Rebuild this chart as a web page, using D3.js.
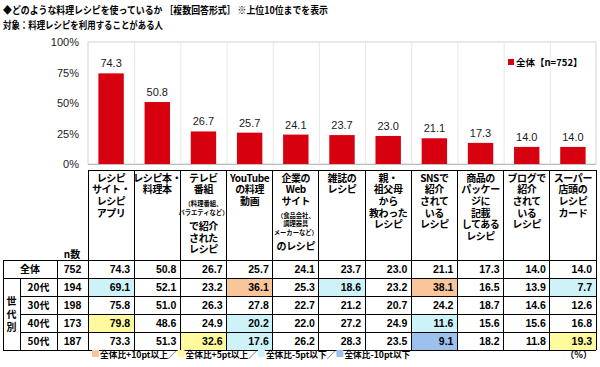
<!DOCTYPE html>
<html>
<head>
<meta charset="utf-8">
<script src="https://cdn.jsdelivr.net/npm/d3@7"></script>
<style>body{margin:0;background:#fff}</style>
</head>
<body>
<script>
// data
const categories = ["レシピサイト・レシピアプリ", "レシピ本・料理本", "テレビ番組で紹介されたレシピ",
  "YouTubeの料理動画", "企業のWebサイトのレシピ", "雑誌のレシピ", "親・祖父母から教わったレシピ",
  "SNSで紹介されているレシピ", "商品のパッケージに記載してあるレシピ", "ブログで紹介されているレシピ",
  "スーパー店頭のレシピカード"];
// header text per column, nested arrays are the small notes
const headerLines = [
  ["レシピ", "サイト・", "レシピ", "アプリ"],
  ["レシピ本・", "料理本"],
  ["テレビ", "番組", ["（料理番組、", "バラエティなど）"], "で紹介", "された", "レシピ"],
  ["YouTube", "の料理", "動画"],
  ["企業の", "Web", "サイト", ["（食品会社、", "調理器具", "メーカーなど）"], "のレシピ"],
  ["雑誌の", "レシピ"],
  ["親・", "祖父母", "から", "教わった", "レシピ"],
  ["SNSで", "紹介", "されて", "いる", "レシピ"],
  ["商品の", "パッケー", "ジに", "記載", "してある", "レシピ"],
  ["ブログで", "紹介", "されて", "いる", "レシピ"],
  ["スーパー", "店頭の", "レシピ", "カード"]
];
const totalValues = [74.3, 50.8, 26.7, 25.7, 24.1, 23.7, 23.0, 21.1, 17.3, 14.0, 14.0];
const totalN = 752;
const ageGroups = ["20代", "30代", "40代", "50代"];
const ageN = [194, 198, 173, 187];
const age20 = [69.1, 52.1, 23.2, 36.1, 25.3, 18.6, 23.2, 38.1, 16.5, 13.9, 7.7];
const age30 = [75.8, 51.0, 26.3, 27.8, 22.7, 21.2, 20.7, 24.2, 18.7, 14.6, 12.6];
const age40 = [79.8, 48.6, 24.9, 20.2, 22.0, 27.2, 24.9, 11.6, 15.6, 15.6, 16.8];
const age50 = [73.3, 51.3, 32.6, 17.6, 26.2, 28.3, 23.5, 9.1, 18.2, 11.8, 19.3];
const yTicks = [0, 25, 50, 75, 100];
const titleText = "◆どのような料理レシピを使っているか ［複数回答形式］ ※上位10位までを表示";
const subTitle = "対象：料理レシピを利用することがある人";
const seriesLabel = "全体【n=752】";
const noteLabels = ["全体比+10pt以上／", "全体比+5pt以上／", "全体比-5pt以下／", "全体比-10pt以下"];

const jp = "'Noto Sans CJK JP', sans-serif",
      num = "'Liberation Sans', Arial, sans-serif",
      red = "#d7000f",
      noteColors = ["#f9c59a", "#fffa9e", "#cdf3f9", "#9dc1ee"];

const W = 600, H = 367,
      plotL = 88, plotR = 596, plotT = 42, plotB = 164;

const svg = d3.select("body").append("svg")
    .attr("width", W).attr("height", H)
    .style("font-family", jp);

// titles
svg.append("text").attr("x", 3).attr("y", 14)
    .attr("font-size", 10).attr("font-weight", "bold")
    .attr("textLength", 325).attr("lengthAdjust", "spacingAndGlyphs")
    .text(titleText);
svg.append("text").attr("x", 3).attr("y", 29)
    .attr("font-size", 10).attr("font-weight", "bold")
    .attr("textLength", 160).attr("lengthAdjust", "spacingAndGlyphs")
    .text(subTitle);

// scales
const x = d3.scaleBand().domain(categories).range([plotL, plotR]);
const xb = d3.scaleBand().domain(categories).range([plotL, plotR])
    .paddingInner(0.45).paddingOuter(0.225);
const y = d3.scaleLinear().domain([0, 100]).range([plotB, plotT]);

// plot frame and grid
svg.append("rect")
    .attr("x", plotL).attr("y", plotT)
    .attr("width", plotR - plotL).attr("height", plotB - plotT)
    .attr("fill", "none").attr("stroke", "#d4d4d4");
svg.append("g").selectAll("line")
    .data(categories.slice(1))
    .join("line")
    .attr("x1", d => x(d) + 0.5).attr("x2", d => x(d) + 0.5)
    .attr("y1", plotT).attr("y2", plotB)
    .attr("stroke", "#e6e6e6");

// y axis
const yAxis = svg.append("g")
    .attr("transform", "translate(" + plotL + ",0)")
    .call(d3.axisLeft(y).tickValues(yTicks).tickFormat(d => d + "%").tickSize(0).tickPadding(9));
yAxis.select(".domain").remove();
yAxis.selectAll("text")
    .attr("font-family", num).attr("font-size", 11).attr("fill", "#222");

svg.append("line")
    .attr("x1", plotL).attr("x2", plotR)
    .attr("y1", plotB + 0.5).attr("y2", plotB + 0.5)
    .attr("stroke", "#bdbdbd");

// bars
svg.append("g").selectAll("rect")
    .data(totalValues)
    .join("rect")
    .attr("x", (d, i) => xb(categories[i]))
    .attr("width", xb.bandwidth())
    .attr("y", d => y(d))
    .attr("height", d => y(0) - y(d))
    .attr("fill", red);

svg.append("g").selectAll("text")
    .data(totalValues)
    .join("text")
    .attr("x", (d, i) => x(categories[i]) + x.bandwidth() / 2)
    .attr("y", d => y(d) - 6)
    .attr("text-anchor", "middle")
    .attr("font-family", num).attr("font-size", 11).attr("fill", "#1a1a1a")
    .text(d => d.toFixed(1));

// legend
svg.append("rect").attr("x", 508).attr("y", 59).attr("width", 6).attr("height", 6).attr("fill", red);
svg.append("text").attr("x", 516).attr("y", 66)
    .attr("font-size", 9.5).attr("font-weight", "bold")
    .text(seriesLabel);

// ---- table ----
const rows = ["全体"].concat(ageGroups),
      rowN = [totalN].concat(ageN),
      rowValues = [totalValues, age20, age30, age40, age50];
const ry = d3.scaleBand().domain(rows).range([260, 350]);
const c0 = 3, c1 = 20, c2 = 57, c3 = plotL, hTop = 170;

// highlight cells
function noteIndex(v, i) {
  const diff = v - totalValues[i];
  if (diff >= 10) return 0;
  if (diff >= 5) return 1;
  if (diff <= -10) return 3;
  if (diff <= -5) return 2;
  return -1;
}
rowValues.slice(1).forEach((vals, r) => {
  svg.append("g").selectAll("rect")
    .data(vals.map((v, i) => ({v, i, k: noteIndex(v, i)})).filter(d => d.k >= 0))
    .join("rect")
    .attr("x", d => x(categories[d.i]))
    .attr("y", ry(ageGroups[r]))
    .attr("width", x.bandwidth())
    .attr("height", ry.bandwidth())
    .attr("fill", d => noteColors[d.k]);
});

const grid = svg.append("g")
    .attr("stroke", "#000").attr("stroke-width", 1)
    .attr("shape-rendering", "crispEdges");
// horizontal
grid.append("line").attr("x1", c3).attr("x2", plotR).attr("y1", hTop).attr("y2", hTop);
grid.append("line").attr("x1", c0).attr("x2", plotR).attr("y1", 260).attr("y2", 260);
ageGroups.forEach(g => {
  const x1 = g === ageGroups[0] ? c0 : c1;
  grid.append("line").attr("x1", x1).attr("x2", plotR).attr("y1", ry(g)).attr("y2", ry(g));
});
grid.append("line").attr("x1", c0).attr("x2", plotR).attr("y1", 350).attr("y2", 350);
// vertical
grid.append("line").attr("x1", c0).attr("x2", c0).attr("y1", 260).attr("y2", 350);
grid.append("line").attr("x1", c1).attr("x2", c1).attr("y1", ry(ageGroups[0])).attr("y2", 350);
grid.append("line").attr("x1", c2).attr("x2", c2).attr("y1", 260).attr("y2", 350);
categories.forEach(c => {
  grid.append("line").attr("x1", x(c)).attr("x2", x(c)).attr("y1", hTop).attr("y2", 350);
});
grid.append("line").attr("x1", plotR).attr("x2", plotR).attr("y1", hTop).attr("y2", 350);

// header text
headerLines.forEach((lines, i) => {
  const cx = x(categories[i]) + x.bandwidth() / 2;
  let yy = 178, prevSmall = false, first = true;
  lines.forEach(item => {
    if (Array.isArray(item)) {
      yy += 14;
      item.forEach((s, k) => {
        if (k > 0) yy += 8.7;
        svg.append("text").attr("x", cx).attr("y", yy + 2.5)
          .attr("text-anchor", "middle").attr("font-size", 6.3).attr("font-weight", "bold")
          .text(s);
      });
      prevSmall = true;
    } else {
      if (!first) yy += prevSmall ? 14 : 11.6;
      svg.append("text").attr("x", cx).attr("y", yy + 3.8)
        .attr("text-anchor", "middle").attr("font-size", 10).attr("font-weight", "bold")
        .attr("letter-spacing", -0.4)
        .text(item);
      prevSmall = false;
    }
    first = false;
  });
});

svg.append("text").attr("x", 72).attr("y", 258)
    .attr("text-anchor", "middle").attr("font-size", 10).attr("font-weight", "bold")
    .text("n数");

// row labels
svg.append("text").attr("x", (c0 + c2) / 2).attr("y", ry("全体") + 13)
    .attr("text-anchor", "middle").attr("font-size", 10).attr("font-weight", "bold")
    .text("全体");
svg.append("g").selectAll("text")
    .data(ageGroups)
    .join("text")
    .attr("x", (c1 + c2) / 2).attr("y", d => ry(d) + 13)
    .attr("text-anchor", "middle").attr("font-size", 10).attr("font-weight", "bold")
    .text(d => d);
["世", "代", "別"].forEach((ch, k) => {
  svg.append("text").attr("x", (c0 + c1) / 2).attr("y", 305 + k * 13)
    .attr("text-anchor", "middle").attr("font-size", 10).attr("font-weight", "bold")
    .text(ch);
});

// n counts
svg.append("g").selectAll("text")
    .data(rowN)
    .join("text")
    .attr("x", (c2 + c3) / 2).attr("y", (d, r) => ry(rows[r]) + 13)
    .attr("text-anchor", "middle")
    .attr("font-family", num).attr("font-size", 10.5).attr("font-weight", "bold")
    .text(d => d);

// values
rowValues.forEach((vals, r) => {
  svg.append("g").selectAll("text")
    .data(vals)
    .join("text")
    .attr("x", (d, i) => x(categories[i]) + x.bandwidth() - 4)
    .attr("y", ry(rows[r]) + 13)
    .attr("text-anchor", "end")
    .attr("font-family", num).attr("font-size", 10.5).attr("font-weight", "bold")
    .text(d => d.toFixed(1));
});

// footer notes
let fx = 92;
noteLabels.forEach((lab, k) => {
  svg.append("rect").attr("x", fx).attr("y", 350).attr("width", 7).attr("height", 7)
    .attr("fill", noteColors[k]);
  const t = svg.append("text").attr("x", fx + 8).attr("y", 358)
    .attr("font-size", 8.7).attr("font-weight", "bold")
    .text(lab);
  fx += 8 + t.node().getComputedTextLength() + 1;
});
svg.append("text").attr("x", 592).attr("y", 358)
    .attr("text-anchor", "end").attr("font-size", 9).attr("font-weight", "bold")
    .text("（%）");
</script>
</body>
</html>
